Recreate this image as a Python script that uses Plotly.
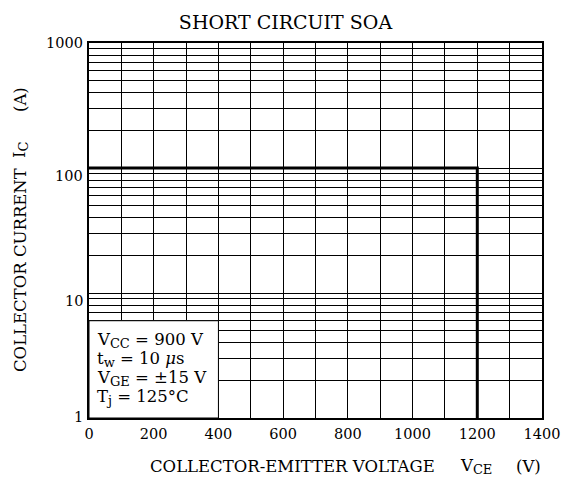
import math
import plotly.graph_objects as go

# ---- data ----
soa_vce = [0, 1200, 1200]          # V
soa_ic = [100, 100, 1]             # A
x_ticks = [0, 200, 400, 600, 800, 1000, 1200, 1400]
y_decades = [1, 10, 100, 1000]
y_grid = [m * d for d in [1, 10, 100] for m in range(1, 10)] + [1000]
SUB = "<sub><span style='font-size:13px'>{}</span></sub>"
cond_lines = ["V" + SUB.format("CC") + " = 900 V",
              "t" + SUB.format("w") + " = 10 <i>μ</i>s",
              "V" + SUB.format("GE") + " = ±15 V",
              "T" + SUB.format("j") + " = 125°C"]
cond_box_x = [0, 400]
cond_box_y = [1, 6]

SERIF = "DejaVu Serif"
W, H = 571, 483
ML, MR, MT, MB = 89, 29, 43, 65
PW, PH = W - ML - MR, H - MT - MB

def px_to_paper_y(py):
    return (H - MB - py) / PH

def px_to_paper_x(px):
    return (px - ML) / PW

fig = go.Figure()
fig.add_trace(go.Scatter(x=soa_vce, y=soa_ic, mode="lines",
                         line=dict(color="black", width=3), showlegend=False,
                         hoverinfo="skip"))

fig.add_shape(type="rect", xref="x", yref="y",
              x0=cond_box_x[0], x1=cond_box_x[1], y0=cond_box_y[0], y1=cond_box_y[1],
              fillcolor="white", line=dict(color="black", width=1), layer="between")

cond_y_px = [340, 359, 378, 397]
for txt, py in zip(cond_lines, cond_y_px):
    fig.add_annotation(text=txt, xref="paper", yref="paper",
                       x=px_to_paper_x(95), y=px_to_paper_y(py),
                       xanchor="left", yanchor="middle", showarrow=False,
                       font=dict(family=SERIF, size=16.5, color="black"))

# y tick labels (decades), placed through the y axis scale
label_shift = {1: 1, 10: -8, 100: -8, 1000: 0}
for v in y_decades:
    fig.add_annotation(text=str(v), xref="paper", yref="y",
                       x=0, y=math.log10(v), xshift=-4, yshift=label_shift[v],
                       xanchor="right", yanchor="middle", showarrow=False,
                       font=dict(family=SERIF, size=14.5, color="black"))

# x axis title pieces
xt_font = dict(family=SERIF, size=16.5, color="black")
for txt, px in [("COLLECTOR-EMITTER VOLTAGE", 148),
                ("V" + SUB.format("CE"), 458), ("(V)", 514)]:
    fig.add_annotation(text=txt, xref="paper", yref="paper",
                       x=px_to_paper_x(px), y=px_to_paper_y(466),
                       xanchor="left", yanchor="middle", showarrow=False,
                       font=xt_font)

# y axis title pieces
for txt, py in [("COLLECTOR CURRENT", 270), ("I" + SUB.format("C"), 150), ("(A)", 100)]:
    fig.add_annotation(text=txt, xref="paper", yref="paper", textangle=-90,
                       x=px_to_paper_x(20), y=px_to_paper_y(py),
                       xanchor="center", yanchor="middle", showarrow=False,
                       font=dict(family=SERIF, size=16.5, color="black"))

fig.update_layout(
    width=W, height=H,
    margin=dict(l=ML, r=MR, t=MT, b=MB),
    paper_bgcolor="white", plot_bgcolor="white",
    title=dict(text="SHORT CIRCUIT SOA", x=0.5, xref="container",
               y=1 - 22 / H, yanchor="middle",
               font=dict(family=SERIF, size=19, color="black")),
    xaxis=dict(range=[0, 1400], tickvals=x_ticks, ticks="",
               showgrid=True, gridcolor="black", gridwidth=1,
               minor=dict(dtick=100, showgrid=True, gridcolor="black", gridwidth=1),
               showline=True, linecolor="black", linewidth=2, mirror=True,
               zeroline=False, ticklabelstandoff=2,
               tickfont=dict(family=SERIF, size=14.5, color="black")),
    yaxis=dict(type="log", range=[0, 3], tickvals=y_grid, showticklabels=False,
               ticks="", showgrid=True, gridcolor="black", gridwidth=1,
               showline=True, linecolor="black", linewidth=2, mirror=True,
               zeroline=False),
)

fig.write_html("out.html", config={"displayModeBar": False},
               post_script="document.body.style.margin='0px';")
